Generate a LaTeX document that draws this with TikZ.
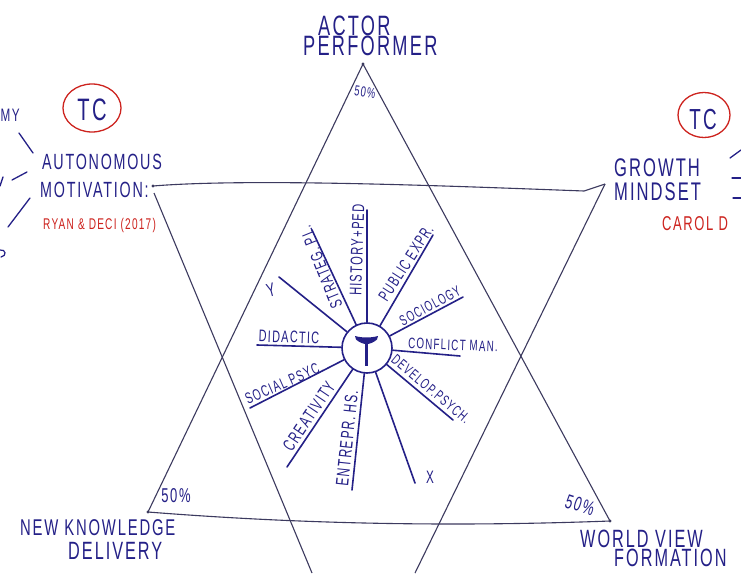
\documentclass[tikz,border=0pt]{standalone}
\usepackage{fontspec}
\setmainfont{Liberation Sans}[FakeStretch=0.65, LetterSpace=8]
\definecolor{ink}{RGB}{36,32,135}
\definecolor{pen}{RGB}{60,58,95}
\definecolor{redink}{RGB}{205,35,30}
\newcommand{\fsz}[1]{\fontsize{#1}{#1}\selectfont}
\begin{document}
\begin{tikzpicture}[x=1pt,y=-1pt,
  txt/.style={text=ink, inner sep=0pt},
  redtxt/.style={text=redink, inner sep=0pt},
  tri/.style={draw=pen, line width=1.1pt},
  spoke/.style={draw=ink, line width=1.6pt, line cap=round},
  ring/.style={draw=redink, line width=1.3pt}]
\useasboundingbox (0,0) rectangle (741,573);
\fill[white] (0,0) rectangle (741,573);

% ---- triangle vertices
\coordinate (apex) at (363,64);
\coordinate (bl) at (148,512);
\coordinate (br) at (610,521);
\coordinate (tl) at (153,186);
\coordinate (tlb) at (154,193);
\coordinate (tr) at (605,184);
\coordinate (dlb) at (312,573);
\coordinate (drb) at (415,573);

% upward triangle
\draw[tri] (bl) -- (apex) -- (br);
\draw[tri] (bl) .. controls (300,524) and (450,527) .. (br);
% downward triangle
\draw[tri] (tl) .. controls (250,178) and (450,186) .. (584,191) -- (tr);
\draw[tri] (tlb) -- (dlb);
\draw[tri] (tr) -- (drb);
\foreach \p in {apex,bl,br,tl}{\fill[pen] (\p) circle (1.6);}

% ---- corner labels
\node[txt, anchor=west, font=\fsz{28}] (actor) at (318,26) {ACTOR};
\node[txt, anchor=west, font=\fsz{28}] (perf) at (303,46) {PERFORMER};
\node[txt, font=\fsz{14.5}, rotate=-8] (p50a) at (365,92) {50\%};

\node[txt, anchor=west, font=\fsz{22}] (auto) at (42,162) {AUTONOMOUS};
\node[txt, anchor=west, font=\fsz{22}] (moti) at (40,190) {MOTIVATION:};
\node[redtxt, anchor=west, font=\fsz{15.5}] (ryan) at (43,225) {RYAN \& DECI (2017)};
\draw[ring] (92,108) ellipse [x radius=29, y radius=24];
\node[txt, font=\fsz{31}] (tcl) at (92,110) {TC};

\node[txt, anchor=west, font=\fsz{25.5}] (grow) at (614,168) {GROWTH};
\node[txt, anchor=west, font=\fsz{25.5}] (mind) at (614,192) {MINDSET};
\node[redtxt, anchor=west, font=\fsz{20}] (carol) at (662,224) {CAROL D};
\draw[ring] (704,115) ellipse [x radius=26, y radius=22.5];
\node[txt, font=\fsz{29}] (tcr) at (703,120) {TC};

\node[txt, anchor=west, font=\fsz{22.8}] (newk) at (20,528) {NEW KNOWLEDGE};
\node[txt, anchor=west, font=\fsz{25}] (deli) at (68,551) {DELIVERY};
\node[txt, font=\fsz{20}] (p50b) at (176,496) {50\%};

\node[txt, anchor=west, font=\fsz{25}] (world) at (580,539) {WORLD VIEW};
\node[txt, anchor=west, font=\fsz{25}] (form) at (614,558) {FORMATION};
\node[txt, font=\fsz{20}, rotate=-18] (p50c) at (580,505) {50\%};

% ---- left and right fragments
\node[txt, anchor=west, font=\fsz{18}] (frag) at (0.5,115) {MY};
\coordinate (fl1a) at (19,133); \coordinate (fl1b) at (33,153);
\coordinate (fl2a) at (12,180); \coordinate (fl2b) at (27,172);
\coordinate (fl3a) at (8,227);  \coordinate (fl3b) at (30,198);
\draw[spoke, line width=1.3pt] (fl1a) -- (fl1b);
\draw[spoke, line width=1.3pt] (fl2a) -- (fl2b);
\draw[spoke, line width=1.3pt] (fl3a) -- (fl3b);
\draw[spoke, line width=1.3pt] (0,186) -- (3,177);
\draw[spoke, line width=1.2pt] (0,250) .. controls (6,249) and (7,256) .. (1,257);
\coordinate (fr1a) at (730,158); \coordinate (fr1b) at (741,150);
\coordinate (fr2a) at (732,178); \coordinate (fr2b) at (741,178);
\coordinate (fr3a) at (733,198); \coordinate (fr3b) at (741,198);
\draw[spoke, line width=1.3pt] (fr1a) -- (fr1b);
\draw[spoke, line width=1.3pt] (fr2a) -- (fr2b);
\draw[spoke, line width=1.3pt] (fr3a) -- (fr3b);

% ---- hub and spokes
\node[circle, draw=ink, line width=1.6pt, minimum size=50pt, inner sep=0pt] (hub) at (367,348) {};
\fill[ink] (355,336) .. controls (362,338) and (371,338) .. (378,336)
   -- (377,339.5) .. controls (370,345.5) and (363,345.5) .. (356,339.5) -- cycle;
\draw[ink, line width=2.3pt] (366.5,342) -- (366.5,366);

\coordinate (sY) at (279,277);
\coordinate (sStr) at (312,230);
\coordinate (sHis) at (367,210);
\coordinate (sPub) at (433,235);
\coordinate (sSoc) at (463,297);
\coordinate (sCon) at (460,356);
\coordinate (sDev) at (453,420);
\coordinate (sX) at (415,483);
\coordinate (sEnt) at (352,490);
\coordinate (sCre) at (287,467);
\coordinate (sSps) at (250,408);
\coordinate (sDid) at (257,345);
\foreach \s in {sY,sStr,sHis,sPub,sSoc,sCon,sDev,sX,sEnt,sCre,sSps,sDid}{\draw[spoke] (hub) -- (\s);}

\node[txt, rotate=112, font=\fsz{17}] (lStr) at (321,267) {STRATEG. PL.};
\node[txt, rotate=88, font=\fsz{17}] (lHis) at (357,250) {HISTORY+PED};
\node[txt, rotate=57, font=\fsz{16.4}] (lPub) at (406,263) {PUBLIC EXPR.};
\node[txt, rotate=28, font=\fsz{14.7}] (lSoc) at (430,306) {SOCIOLOGY};
\node[txt, rotate=-2, font=\fsz{15.1}] (lCon) at (453,345) {CONFLICT MAN.};
\node[txt, rotate=-2, font=\fsz{16.7}] (lDid) at (289,337) {DIDACTIC};
\node[txt, rotate=-40, font=\fsz{14.7}] (lDev) at (431,389) {DEVELOP.PSYCH.};
\node[txt, rotate=24, font=\fsz{15.7}] (lSps) at (284,383) {SOCIAL PSYC.};
\node[txt, rotate=56, font=\fsz{17.5}] (lCre) at (309,416) {CREATIVITY};
\node[txt, rotate=84, font=\fsz{18}] (lEnt) at (347,438) {ENTREPR. HS.};
\node[txt, rotate=15, font=\fsz{19}] (lY) at (271,290) {Y};
\node[txt, font=\fsz{18}] (lX) at (430,477) {X};
\end{tikzpicture}
\end{document}
